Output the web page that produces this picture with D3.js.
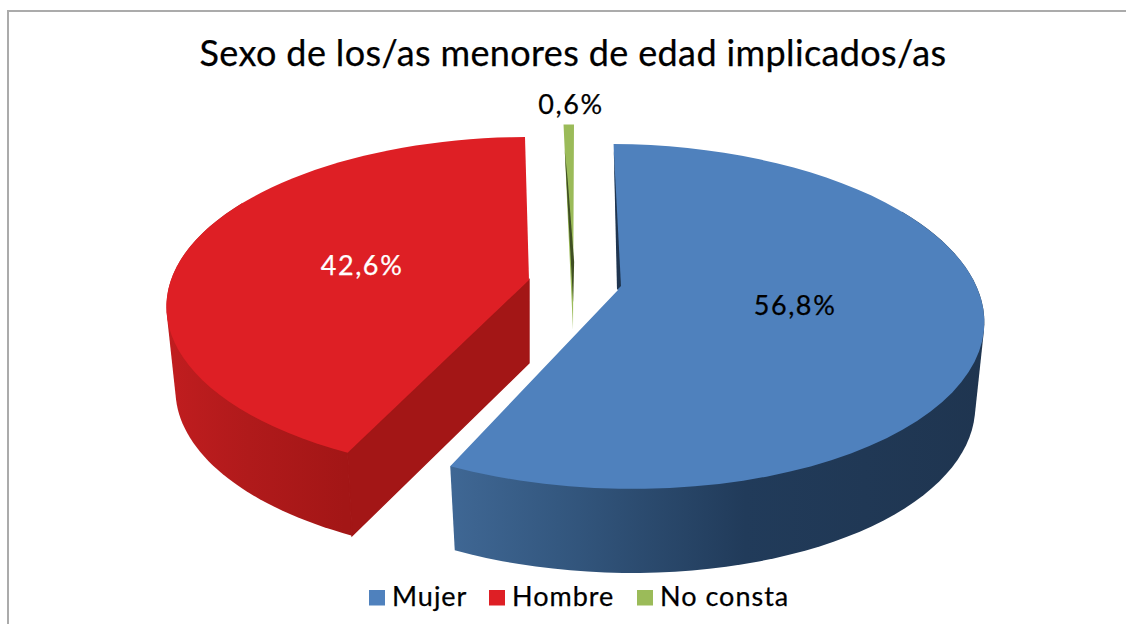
<!DOCTYPE html>
<html>
<head>
<meta charset="utf-8">
<script src="https://cdn.jsdelivr.net/npm/d3@7"></script>
<style>
  html, body { margin: 0; padding: 0; background: #fff; overflow: hidden; }
  svg { display: block; }
  text { font-family: "Lato", sans-serif; fill: #000; stroke: #000; stroke-width: 0.25px; }
</style>
</head>
<body>
<div id="chart"></div>
<script>
var categories = ["Mujer", "Hombre", "No consta"];
var values = [56.8, 42.6, 0.6];
var valueLabels = ["56,8%", "42,6%", "0,6%"];
var titleText = "Sexo de los/as menores de edad implicados/as";

var width = 1126, height = 624;
var topColors = ["#4f81bd", "#de1f25", "#9bbb59"];
var wallColors = ["#1f3550", "#a31616", "#3f4f22"];

// where each exploded slice sits, and how the tilt bends it
var slices = [
  { ax: 618, ay: 290, sx: 360, sy: 168.5, shear: -12, depth: 84 },
  { ax: 529, ay: 280, sx: 358, sy: 165, shear: 2, depth: 83 },
  { ax: 573, ay: 330, sx: 320, sy: 237, shear: -5, depth: 0 }
];
var tilt = 0.153;   // perspective strength
var shrink = 0.025; // bottom rim is a bit narrower

var svg = d3.select("#chart").append("svg")
  .attr("width", width)
  .attr("height", height);

// frame runs off the right and bottom of the picture
svg.append("rect")
  .attr("x", 8).attr("y", 11)
  .attr("width", 1200).attr("height", 700)
  .attr("fill", "#fff")
  .attr("stroke", "#ababab")
  .attr("stroke-width", 2);

var defs = svg.append("defs");

function addGradient(id, x1, x2, stops) {
  var g = defs.append("linearGradient")
    .attr("id", id)
    .attr("gradientUnits", "userSpaceOnUse")
    .attr("x1", x1).attr("x2", x2)
    .attr("y1", 0).attr("y2", 0);
  stops.forEach(function (s) {
    g.append("stop").attr("offset", s[0]).attr("stop-color", s[1]);
  });
}
addGradient("side0", 452, 985, [[0, "#3f6794"], [0.2, "#345880"], [0.55, "#213b5a"], [1, "#1f3550"]]);
addGradient("side1", 170, 345, [[0, "#c01d1f"], [0.45, "#b01a1b"], [1, "#a31616"]]);

var pie = d3.pie().sort(null)
  .startAngle(1.1 * Math.PI / 180)
  .endAngle((360 + 1.1) * Math.PI / 180);
var arcs = pie(values);

// pie plane -> screen. z = 0 is the top face, z = 1 the bottom one
function project(s, angle, r, z) {
  var X = r * Math.sin(angle), Y = r * Math.cos(angle);
  var w = 1 + tilt * Y;
  return [
    s.ax + s.sx * (1 - shrink * z) * X / w + s.shear * Y / w,
    s.ay + s.depth * z - s.sy * Y / w
  ];
}

var line = d3.line();

function rim(s, a0, a1, z) {
  return d3.range(0, 61).map(function (i) {
    return project(s, a0 + (a1 - a0) * i / 60, 1, z);
  });
}

function drawSlice(i) {
  var s = slices[i], a = arcs[i];
  var g = svg.append("g");
  var topRim = rim(s, a.startAngle, a.endAngle, 0);
  var apex = project(s, 0, 0, 0);

  // outer side: hull of both rims over the part that faces the viewer
  if (i < 2) {
    var from = i === 0 ? Math.PI / 3 : a.startAngle;
    var to = i === 0 ? a.endAngle : Math.PI * 5 / 3;
    var hull = d3.polygonHull(rim(s, from, to, 0).concat(rim(s, from, to, 1)));
    g.append("path")
      .attr("d", line(hull) + "Z")
      .attr("fill", "url(#side" + i + ")");
  }

  // cut wall of the red slice
  if (i === 1) {
    var c0 = project(s, a.startAngle, 1, 0), c1 = project(s, a.startAngle, 1, 1);
    var p1 = project(s, 0, 0, 1);
    g.append("path")
      .attr("d", line([c0, c1, p1, apex]) + "Z")
      .attr("fill", wallColors[i])
      .attr("stroke", wallColors[i])
      .attr("stroke-width", 1.4);
  }

  // top face
  g.append("path")
    .attr("d", line([apex].concat(topRim)) + "Z")
    .attr("fill", topColors[i]);

  // thin dark sliver on the left of blue and green
  if (i === 0) {
    var r0 = project(s, a.startAngle, 0.95, 0);
    g.append("path")
      .attr("d", line([r0, [apex[0] - 1, apex[1]], [apex[0] + 3, apex[1] - 4]]) + "Z")
      .attr("fill", wallColors[i]);
  }
  if (i === 2) {
    var g0 = project(s, a.startAngle, 0.86, 0);
    var g1 = project(s, a.endAngle, 0.12, 0);
    g.append("path")
      .attr("d", line([g0, g1, [g1[0] + 1, g1[1] - 40], [g0[0] + 3, g0[1] + 30]]) + "Z")
      .attr("fill", wallColors[i]);
  }
}

[1, 0, 2].forEach(drawSlice);

svg.append("text")
  .attr("x", 573).attr("y", 66)
  .attr("text-anchor", "middle")
  .attr("font-size", 36)
  .attr("letter-spacing", 0.37)
  .text(titleText);

var labelPos = [[795, 315], [362, 275], [571, 114]];
valueLabels.forEach(function (t, i) {
  svg.append("text")
    .attr("x", labelPos[i][0]).attr("y", labelPos[i][1])
    .attr("text-anchor", "middle")
    .attr("font-size", 27)
    .attr("letter-spacing", 1.6)
    .style("fill", i === 1 ? "#fff" : "#000")
    .style("stroke", i === 1 ? "#fff" : "#000")
    .text(t);
});

var swatchX = d3.scaleOrdinal().domain(categories).range([369, 489, 637]);
categories.forEach(function (c, i) {
  svg.append("rect")
    .attr("x", swatchX(c)).attr("y", 590)
    .attr("width", 16).attr("height", 15.5)
    .attr("fill", topColors[i]);
  svg.append("text")
    .attr("x", swatchX(c) + 23).attr("y", 606)
    .attr("font-size", 27)
    .attr("letter-spacing", 1)
    .text(c);
});
</script>
</body>
</html>
